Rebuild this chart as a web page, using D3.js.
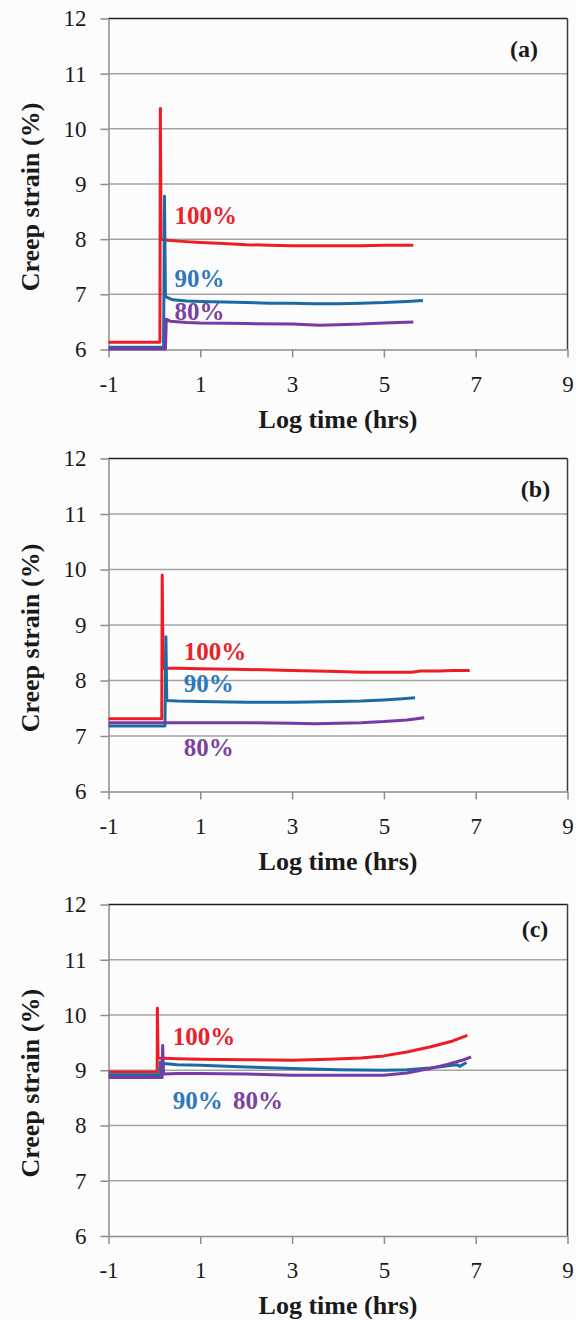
<!DOCTYPE html>
<html><head><meta charset="utf-8">
<script src="https://cdn.jsdelivr.net/npm/d3@7"></script>
<style>html,body{margin:0;padding:0;background:#fcfcfc;} svg{display:block;}</style>
</head><body><svg id="chart" width="576" height="1320"></svg>
<script>
// ---------- data ----------
const panelLabels = ["(a)", "(b)", "(c)"];
const seriesNames = ["100%", "90%", "80%"];
const yTicks = [6, 7, 8, 9, 10, 11, 12];
const xTicks = [-1, 1, 3, 5, 7, 9];
const xTitle = "Log time (hrs)";
const yTitle = "Creep strain (%)";

// panel (a): [log time, strain]
const a100 = [[-1,6.13],[0.12,6.13],[0.13,10.37],[0.145,8.0],[0.3,7.98],[0.6,7.96],[1,7.94],[1.5,7.92],[2,7.9],[2.5,7.89],[3,7.88],[3.5,7.88],[4,7.88],[4.5,7.88],[5,7.89],[5.64,7.89]];
const a90  = [[-1,6.04],[0.2,6.04],[0.22,8.78],[0.24,6.96],[0.4,6.9],[0.7,6.88],[1,6.87],[1.5,6.86],[2,6.85],[2.5,6.84],[3,6.84],[3.5,6.83],[4,6.83],[4.5,6.84],[5,6.85],[5.5,6.87],[5.85,6.89]];
const a80  = [[-1,6.01],[0.24,6.01],[0.26,6.55],[0.35,6.51],[0.7,6.49],[1,6.48],[2,6.47],[3,6.46],[3.6,6.44],[4,6.45],[4.5,6.46],[5,6.48],[5.64,6.5]];
// panel (b)
const b100 = [[-1,7.31],[0.16,7.31],[0.17,9.9],[0.19,8.22],[0.5,8.22],[1,8.21],[2,8.2],[3,8.18],[4,8.16],[4.5,8.15],[5,8.15],[5.6,8.15],[5.8,8.17],[6.2,8.17],[6.5,8.18],[6.87,8.18]];
const b90  = [[-1,7.18],[0.23,7.18],[0.25,8.79],[0.27,7.64],[0.5,7.63],[1,7.62],[2,7.61],[3,7.61],[4,7.62],[4.5,7.63],[5,7.65],[5.4,7.67],[5.68,7.69]];
const b80  = [[-1,7.24],[0.25,7.24],[1,7.24],[2,7.24],[3,7.23],[3.5,7.22],[4,7.23],[4.5,7.24],[5,7.26],[5.5,7.29],[5.88,7.33]];
// panel (c)
const c100 = [[-1,8.97],[0.06,8.97],[0.065,10.12],[0.08,9.22],[0.5,9.21],[1,9.2],[2,9.19],[3,9.18],[3.8,9.2],[4.5,9.22],[5,9.26],[5.5,9.33],[6,9.42],[6.5,9.53],[6.82,9.63]];
const c90  = [[-1,8.92],[0.12,8.92],[0.13,9.15],[0.2,9.12],[0.5,9.1],[1,9.09],[2,9.06],[3,9.03],[4,9.01],[5,9.0],[5.5,9.01],[6,9.04],[6.4,9.08],[6.6,9.1],[6.65,9.07],[6.8,9.14]];
const c80  = [[-1,8.87],[0.17,8.87],[0.18,9.45],[0.2,8.93],[0.5,8.94],[1,8.94],[2,8.93],[3,8.91],[4,8.91],[5,8.91],[5.5,8.95],[6,9.03],[6.4,9.11],[6.7,9.18],[6.9,9.24]];

// series label anchors (log time, strain)
const aLabelAt = [[0.44,8.27],[0.44,7.13],[0.44,6.53]];
const bLabelAt = [[0.64,8.37],[0.64,7.79],[0.64,6.64]];
const cLabelAt = [[0.40,9.455],[0.40,8.30],[1.71,8.30]];

// ---------- style / layout ----------
const lineColors = ["#ee1d25", "#1c6aa4", "#7a3aa6"];
const textColors = ["#e8232b", "#2f78bb", "#7a449e"];
const L = 108.5, R = 567.5;
const panels = [
  {label: panelLabels[0], top: 18.5, bottom: 349.5, series: [a100, a90, a80], labelAt: aLabelAt, tagX: 524, tagDy: 38.5},
  {label: panelLabels[1], top: 458.5, bottom: 791.5, series: [b100, b90, b80], labelAt: bLabelAt, tagX: 535.5, tagDy: 38.5},
  {label: panelLabels[2], top: 904.5, bottom: 1236, series: [c100, c90, c80], labelAt: cLabelAt, tagX: 535, tagDy: 32}
];
const SERIF = "'Liberation Serif','Times New Roman',serif";

const svg = d3.select("#chart");

panels.forEach(p => {
  const g = svg.append("g");
  const x = d3.scaleLinear().domain([-1, 9]).range([L, R]);
  const y = d3.scaleLinear().domain([6, 12]).range([p.bottom, p.top]);

  // gridlines
  g.append("g").selectAll("line").data(yTicks.filter(v => v > 6 && v < 12)).join("line")
    .attr("x1", L).attr("x2", R)
    .attr("y1", d => y(d)).attr("y2", d => y(d))
    .attr("stroke", "#a3a3a3").attr("stroke-width", 1.5);

  // top & right border
  g.append("line").attr("x1", L).attr("x2", R).attr("y1", y(12)).attr("y2", y(12))
    .attr("stroke", "#1e1e1e").attr("stroke-width", 1.5);
  g.append("line").attr("x1", R).attr("x2", R).attr("y1", y(12)).attr("y2", y(6))
    .attr("stroke", "#3c3c3c").attr("stroke-width", 1.5);

  // axes
  const yAxis = g.append("g").attr("transform", `translate(${L},0)`)
    .call(d3.axisLeft(y).tickValues(yTicks).tickFormat(d3.format("d")).tickSize(8).tickSizeOuter(0).tickPadding(14));
  const xAxis = g.append("g").attr("transform", `translate(0,${p.bottom})`)
    .call(d3.axisBottom(x).tickValues(xTicks).tickFormat(d3.format("d")).tickSize(8).tickSizeOuter(0).tickPadding(18));
  [yAxis, xAxis].forEach(ax => {
    ax.select(".domain").attr("stroke", "#8c8c8c").attr("stroke-width", 1.5);
    ax.selectAll(".tick line").attr("stroke", "#8c8c8c").attr("stroke-width", 1.5);
    ax.selectAll(".tick text").attr("font-family", SERIF).attr("font-size", 23).attr("fill", "#1a1a1a");
  });
  xAxis.selectAll(".tick text").text(d => d < 0 ? "-" + Math.abs(d) : d);

  // series
  const line = d3.line().x(d => x(d[0])).y(d => y(d[1]));
  p.series.forEach((s, i) => {
    g.append("path").datum(s).attr("d", line)
      .attr("fill", "none").attr("stroke", lineColors[i]).attr("stroke-width", 3)
      .attr("stroke-linejoin", "round");
  });

  // series labels
  p.labelAt.forEach((pos, i) => {
    g.append("text").attr("x", x(pos[0])).attr("y", y(pos[1]))
      .attr("font-family", SERIF).attr("font-weight", "bold").attr("font-size", 25)
      .attr("fill", textColors[i]).text(seriesNames[i]);
  });

  // panel tag
  g.append("text").attr("x", p.tagX).attr("y", p.top + p.tagDy)
    .attr("text-anchor", "middle").attr("font-family", SERIF).attr("font-weight", "bold")
    .attr("font-size", 24).attr("fill", "#1a1a1a").text(p.label);

  // axis titles
  g.append("text").attr("x", (L + R) / 2).attr("y", p.bottom + 78)
    .attr("text-anchor", "middle").attr("font-family", SERIF).attr("font-weight", "bold")
    .attr("font-size", 26).attr("fill", "#1a1a1a").text(xTitle);
  g.append("text").attr("transform", `translate(39,${(p.top + p.bottom) / 2 + 13}) rotate(-90)`)
    .attr("text-anchor", "middle").attr("font-family", SERIF).attr("font-weight", "bold")
    .attr("font-size", 26).attr("fill", "#1a1a1a").text(yTitle);
});
</script></body></html>
